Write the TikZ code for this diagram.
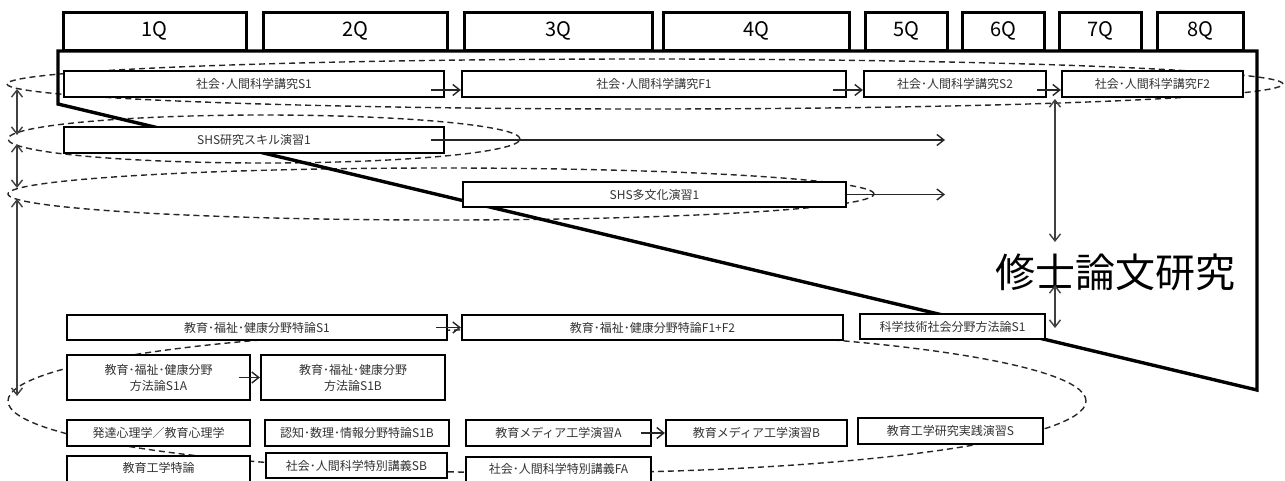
\documentclass[tikz,border=0pt]{standalone}
\usepackage{fontspec}
\newfontfamily\cjk{Noto Sans CJK JP}
\usetikzlibrary{arrows.meta,shapes.geometric}
\newcommand\mybox[7][]{\node[box,#1,minimum width={#4-#2},minimum height={#5-#3}] (#6) at ({(#2+#4)/2},{(#3+#5)/2}) {#7};}
\tikzset{
  hdr/.style={draw, line width=3pt, fill=none, inner sep=0pt, text=black, font=\cjk\fontsize{20}{24}\selectfont},
  box/.style={draw, fill=white, line width=2.2pt, inner sep=0pt, align=center, text=black!80, font=\cjk\fontsize{12}{16}\selectfont},
  ovl/.style={dash pattern=on 6pt off 4pt, line width=1.4pt, black!85},
  barb/.tip={Straight Barb[length=7pt,width=11pt]},
  conn/.style={line width=1.4pt, black!85, -barb},
  conn2/.style={line width=1.4pt, black!75, barb-barb},
  frame/.style={line width=3.4pt, line join=miter}
}
\begin{document}
\begin{tikzpicture}[x=1pt,y=-1pt]
\useasboundingbox (0,0) rectangle (1285,480);
% dashed groupings
\draw[ovl] (645,84) ellipse [x radius=638pt, y radius=25pt];
\draw[ovl] (264,139) ellipse [x radius=256pt, y radius=24pt];
\draw[ovl] (441,194) ellipse [x radius=433pt, y radius=26pt];
\draw[ovl] (547,401) ellipse [x radius=539pt, y radius=72pt];
% frame
\draw[frame] (58,51) -- (1257,51) -- (1257,390) -- (58,104) -- cycle;
% headers
\mybox[hdr]{63}{12}{246}{50}{q1}{1Q}
\mybox[hdr]{263}{12}{447}{50}{q2}{2Q}
\mybox[hdr]{464}{12}{652}{50}{q3}{3Q}
\mybox[hdr]{663}{12}{849}{50}{q4}{4Q}
\mybox[hdr]{865}{12}{947}{50}{q5}{5Q}
\mybox[hdr]{962}{12}{1044}{50}{q6}{6Q}
\mybox[hdr]{1059}{12}{1141}{50}{q7}{7Q}
\mybox[hdr]{1157}{12}{1243}{50}{q8}{8Q}
% row 1
\mybox{64}{71}{444}{97}{s1}{社会･人間科学講究S1}
\mybox{462}{71}{846}{97}{f1}{社会･人間科学講究F1}
\mybox{864}{71}{1046}{97}{s2}{社会･人間科学講究S2}
\mybox{1062}{71}{1243}{97}{f2}{社会･人間科学講究F2}
% rows 2-3
\mybox{64}{127}{444}{153}{shs1}{SHS研究スキル演習1}
\mybox{463}{182}{846}{207}{shs2}{SHS多文化演習1}
% row 4
\mybox{67}{315}{447}{340}{ed1}{教育･福祉･健康分野特論S1}
\mybox{462}{315}{843}{340}{ed2}{教育･福祉･健康分野特論F1+F2}
\mybox{860}{314}{1045}{339}{sts}{科学技術社会分野方法論S1}
% row 5
\mybox{67}{355}{250}{400}{ma}{教育･福祉･健康分野\\方法論S1A}
\mybox{261}{355}{445}{400}{mb}{教育･福祉･健康分野\\方法論S1B}
% row 6
\mybox{67}{420}{250}{446}{dev}{発達心理学／教育心理学}
\mybox{265}{420}{449}{446}{cog}{認知･数理･情報分野特論S1B}
\mybox{466}{420}{651}{446}{mda}{教育メディア工学演習A}
\mybox{666}{420}{847}{446}{mdb}{教育メディア工学演習B}
\mybox{858}{418}{1043}{444}{prac}{教育工学研究実践演習S}
% row 7
\mybox{67}{456}{250}{494}{et}{}
\node[text=black!80, font=\cjk\fontsize{12}{16}\selectfont] (ettext) at (158.5,468) {教育工学特論};
\mybox{266}{453}{447}{478}{sb}{社会･人間科学特別講義SB}
\mybox{466}{457}{651}{494}{fa}{}
\node[text=black!80, font=\cjk\fontsize{12}{16}\selectfont] (fatext) at (558.5,469) {社会･人間科学特別講義FA};
% big label
\node[font=\cjk\fontsize{40}{44}\selectfont] (thesis) at (1115,272) {修士論文研究};
% connectors
\draw[conn] ([xshift=-14pt,yshift=-6pt]s1.east) -- ([yshift=-6pt]f1.west);
\draw[conn] ([xshift=-14pt,yshift=-6pt]f1.east) -- ([yshift=-6pt]s2.west);
\draw[conn] ([xshift=-10pt,yshift=-6pt]s2.east) -- ([yshift=-6pt]f2.west);
\coordinate (shsend1) at (945,140);
\coordinate (shsend2) at (945,194.5);
\draw[conn] ([xshift=-14pt]shs1.east) -- (shsend1);
\draw[conn] (shs2.east) -- (shsend2);
\draw[conn] ([xshift=-12pt]ed1.east) -- (ed2.west);
\draw[conn] ([xshift=-12pt]ma.east) -- (mb.west);
\draw[conn] ([xshift=-11pt]mda.east) -- (mdb.west);
% vertical arrows
\coordinate (v1a) at (1055,99);
\coordinate (v1b) at (1055,242);
\coordinate (v2a) at (1055,285);
\coordinate (v2b) at (1055,328);
\draw[conn2] (v1a) -- (v1b);
\draw[conn2] (v2a) -- (v2b);
\coordinate (l1) at (17,89);
\coordinate (l2) at (17,135);
\coordinate (l3) at (17,144);
\coordinate (l4) at (17,188);
\coordinate (l5) at (17,199);
\coordinate (l6) at (17,396);
\draw[conn2] (l1) -- (l2);
\draw[conn2] (l3) -- (l4);
\draw[conn2] (l5) -- (l6);
\end{tikzpicture}
\end{document}
